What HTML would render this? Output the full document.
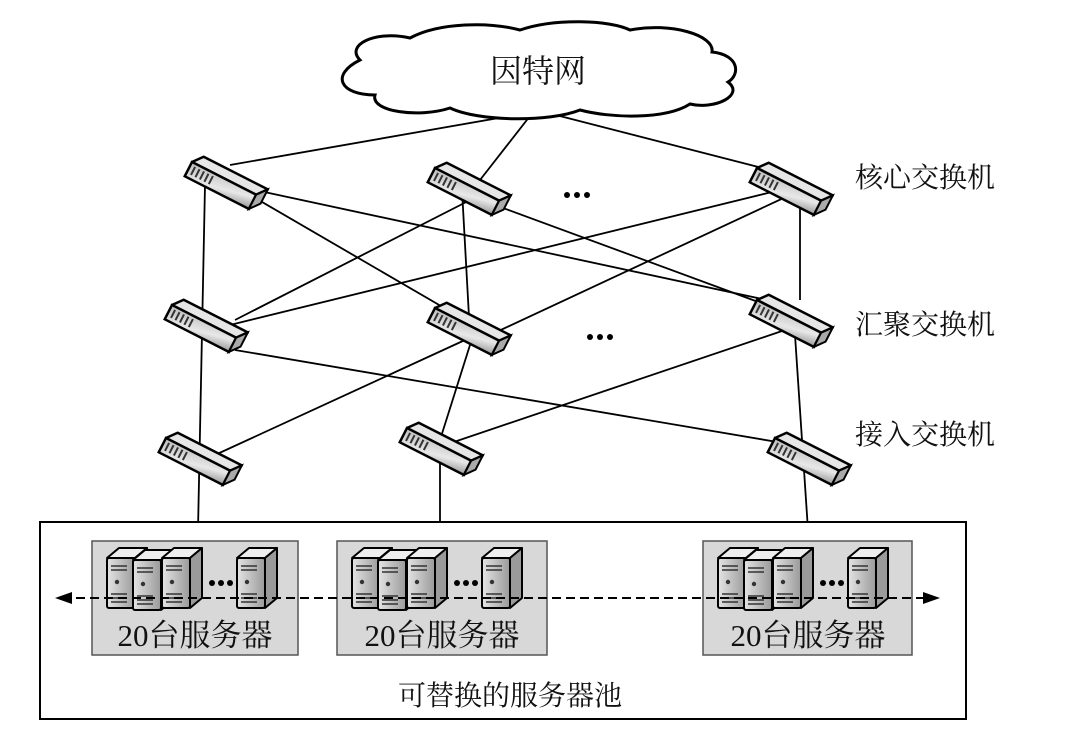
<!DOCTYPE html>
<html><head><meta charset="utf-8"><style>
html,body{margin:0;padding:0;background:#fff;}
svg{display:block;}
text{font-family:"Liberation Serif","Noto Serif CJK SC","WenQuanYi Zen Hei",serif;fill:#111;}
</style></head><body>
<svg width="1065" height="745" viewBox="0 0 1065 745" xmlns="http://www.w3.org/2000/svg">
<defs>
<linearGradient id="sg" x1="0" y1="0" x2="1" y2="1"><stop offset="0" stop-color="#bbb"/><stop offset="0.6" stop-color="#e8e8e8"/><stop offset="1" stop-color="#999"/></linearGradient>
<linearGradient id="sv" x1="0" y1="0" x2="1" y2="0"><stop offset="0" stop-color="#e4e4e4"/><stop offset="1" stop-color="#9a9a9a"/></linearGradient>
<g id="sw">
  <polygon points="0,0 72,0 80,-10 8,-10" fill="#e6e6e6" stroke="#000" stroke-width="2.5" stroke-linejoin="round"/>
  <rect x="0" y="0" width="72" height="16" fill="url(#sg)" stroke="#000" stroke-width="2.5"/>
  <polygon points="72,0 80,-10 80,6 72,16" fill="#aaa" stroke="#000" stroke-width="2"/>
  <g stroke="#333" stroke-width="2"><line x1="5" y1="3" x2="5" y2="12"/><line x1="10" y1="3" x2="10" y2="12"/><line x1="15" y1="3" x2="15" y2="12"/><line x1="20" y1="3" x2="20" y2="12"/><line x1="25" y1="3" x2="25" y2="12"/></g>
</g>
<g id="srv">
  <polygon points="0,10 12,0 40,0 28,10" fill="#eee" stroke="#000" stroke-width="2" stroke-linejoin="round"/>
  <polygon points="28,10 40,0 40,50 28,60" fill="#9a9a9a" stroke="#000" stroke-width="2" stroke-linejoin="round"/>
  <rect x="0" y="10" width="28" height="50" rx="2" fill="url(#sv)" stroke="#000" stroke-width="2"/>
  <g stroke="#333" stroke-width="1.5"><line x1="4" y1="18" x2="20" y2="18"/><line x1="4" y1="22" x2="20" y2="22"/><line x1="4" y1="46" x2="20" y2="46"/><line x1="4" y1="50" x2="20" y2="50"/><line x1="4" y1="54" x2="20" y2="54"/></g>
  <circle cx="10" cy="34" r="2.2" fill="#333"/>
</g>
</defs>

<g stroke="#000" stroke-width="1.8" fill="none">
<line x1="510" y1="116" x2="230" y2="165"/>
<line x1="530" y1="116" x2="480" y2="180"/>
<line x1="552" y1="114" x2="770" y2="170"/>
<line x1="205" y1="185" x2="198" y2="530"/>
<line x1="250" y1="195" x2="465" y2="320"/>
<line x1="255" y1="190" x2="790" y2="305"/>
<line x1="462" y1="190" x2="470" y2="335"/>
<line x1="480" y1="195" x2="235" y2="320"/>
<line x1="495" y1="205" x2="780" y2="310"/>
<line x1="780" y1="190" x2="230" y2="325"/>
<line x1="790" y1="195" x2="490" y2="335"/>
<line x1="800" y1="200" x2="800" y2="300"/>
<line x1="235" y1="350" x2="795" y2="445"/>
<line x1="465" y1="340" x2="215" y2="455"/>
<line x1="470" y1="345" x2="440" y2="440"/>
<line x1="785" y1="330" x2="445" y2="445"/>
<line x1="795" y1="335" x2="808" y2="530"/>
<line x1="440" y1="450" x2="440" y2="538"/>
</g>

<path d="M360,60 C345,45 375,30 410,38 C440,22 490,22 520,30 C555,18 610,20 630,30 C670,22 715,35 712,52 C740,55 740,75 728,82 C745,95 715,110 690,104 C665,120 610,118 580,110 C550,122 480,122 450,108 C420,118 370,112 375,95 C340,95 330,75 360,60 Z" fill="#fff" stroke="#000" stroke-width="3"/>
<text x="538" y="82" font-size="32" text-anchor="middle">因特网</text>

<use href="#sw" transform="translate(192,162) rotate(27)"/>
<use href="#sw" transform="translate(435,168) rotate(27)"/>
<use href="#sw" transform="translate(757,168) rotate(27)"/>
<use href="#sw" transform="translate(172,305) rotate(27)"/>
<use href="#sw" transform="translate(435,308) rotate(27)"/>
<use href="#sw" transform="translate(757,300) rotate(27)"/>
<use href="#sw" transform="translate(166,438) rotate(27)"/>
<use href="#sw" transform="translate(407,428) rotate(27)"/>
<use href="#sw" transform="translate(775,438) rotate(27)"/>

<g fill="#000"><circle cx="567" cy="195" r="3"/><circle cx="577" cy="195" r="3"/><circle cx="587" cy="195" r="3"/>
<circle cx="590" cy="337" r="3"/><circle cx="600" cy="337" r="3"/><circle cx="610" cy="337" r="3"/></g>

<text x="855" y="187" font-size="28">核心交换机</text>
<text x="855" y="334" font-size="28">汇聚交换机</text>
<text x="855" y="444" font-size="28">接入交换机</text>

<rect x="40" y="522" width="926" height="197" fill="#fff" stroke="#000" stroke-width="2"/>
<g fill="#d8d8d8" stroke="#555" stroke-width="1.5">
<rect x="92" y="541" width="206" height="114"/>
<rect x="337" y="541" width="210" height="114"/>
<rect x="703" y="541" width="209" height="114"/>
</g>
<use href="#srv" transform="translate(107,548)"/><use href="#srv" transform="translate(133,550)"/><use href="#srv" transform="translate(162,548)"/><use href="#srv" transform="translate(237,548)"/>
<use href="#srv" transform="translate(352,548)"/><use href="#srv" transform="translate(378,550)"/><use href="#srv" transform="translate(407,548)"/><use href="#srv" transform="translate(482,548)"/>
<use href="#srv" transform="translate(718,548)"/><use href="#srv" transform="translate(744,550)"/><use href="#srv" transform="translate(773,548)"/><use href="#srv" transform="translate(848,548)"/>
<g fill="#000"><circle cx="212" cy="583" r="3"/><circle cx="221" cy="583" r="3"/><circle cx="230" cy="583" r="3"/>
<circle cx="457" cy="583" r="3"/><circle cx="466" cy="583" r="3"/><circle cx="475" cy="583" r="3"/>
<circle cx="823" cy="583" r="3"/><circle cx="832" cy="583" r="3"/><circle cx="841" cy="583" r="3"/></g>
<line x1="62" y1="598" x2="930" y2="598" stroke="#000" stroke-width="2" stroke-dasharray="9,5"/>
<polygon points="55,598 72,592 72,604" fill="#000"/>
<polygon points="940,598 923,592 923,604" fill="#000"/>
<text x="195" y="646" font-size="31" text-anchor="middle">20台服务器</text>
<text x="442" y="646" font-size="31" text-anchor="middle">20台服务器</text>
<text x="808" y="646" font-size="31" text-anchor="middle">20台服务器</text>
<text x="510" y="705" font-size="28" text-anchor="middle">可替换的服务器池</text>
</svg>
</body></html>
